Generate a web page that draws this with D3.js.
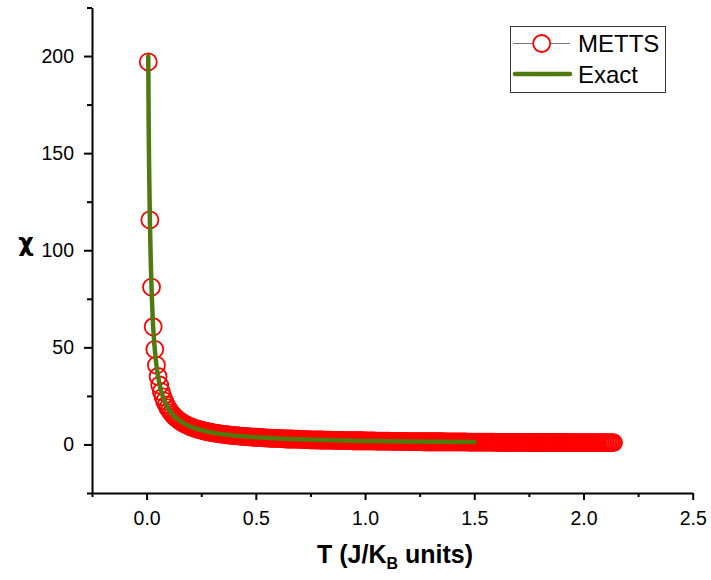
<!DOCTYPE html>
<html><head><meta charset="utf-8">
<script src="https://cdn.jsdelivr.net/npm/d3@7"></script>
<style>
html,body{margin:0;padding:0;background:#fff;}
svg{display:block;font-family:"Liberation Sans",Arial,sans-serif;}
</style></head>
<body>
<svg id="chart" width="711" height="580"></svg>
<script>
// METTS data: temperature (J/K_B units) and susceptibility chi
const mettsT = [
0.0075,0.015,0.0225,0.03,0.0375,0.045,0.0525,0.06,0.0675,0.075,0.0825,0.09,0.0975,0.105,0.1125,0.12,
0.1275,0.135,0.1425,0.15,0.1575,0.165,0.1725,0.18,0.1875,0.195,0.2025,0.21,0.2175,0.225,0.2325,0.24,
0.2475,0.255,0.2625,0.27,0.2775,0.285,0.2925,0.3,0.3075,0.315,0.3225,0.33,0.3375,0.345,0.3525,0.36,
0.3675,0.375,0.3825,0.39,0.3975,0.405,0.4125,0.42,0.4275,0.435,0.4425,0.45,0.4575,0.465,0.4725,0.48,
0.4875,0.495,0.5025,0.51,0.5175,0.525,0.5325,0.54,0.5475,0.555,0.5625,0.57,0.5775,0.585,0.5925,0.6,
0.6075,0.615,0.6225,0.63,0.6375,0.645,0.6525,0.66,0.6675,0.675,0.6825,0.69,0.6975,0.705,0.7125,0.72,
0.7275,0.735,0.7425,0.75,0.7575,0.765,0.7725,0.78,0.7875,0.795,0.8025,0.81,0.8175,0.825,0.8325,0.84,
0.8475,0.855,0.8625,0.87,0.8775,0.885,0.8925,0.9,0.9075,0.915,0.9225,0.93,0.9375,0.945,0.9525,0.96,
0.9675,0.975,0.9825,0.99,0.9975,1.005,1.0125,1.02,1.0275,1.035,1.0425,1.05,1.0575,1.065,1.0725,1.08,
1.0875,1.095,1.1025,1.11,1.1175,1.125,1.1325,1.14,1.1475,1.155,1.1625,1.17,1.1775,1.185,1.1925,1.2,
1.2075,1.215,1.2225,1.23,1.2375,1.245,1.2525,1.26,1.2675,1.275,1.2825,1.29,1.2975,1.305,1.3125,1.32,
1.3275,1.335,1.3425,1.35,1.3575,1.365,1.3725,1.38,1.3875,1.395,1.4025,1.41,1.4175,1.425,1.4325,1.44,
1.4475,1.455,1.4625,1.47,1.4775,1.485,1.4925,1.5,1.5075,1.515,1.5225,1.53,1.5375,1.545,1.5525,1.56,
1.5675,1.575,1.5825,1.59,1.5975,1.605,1.6125,1.62,1.6275,1.635,1.6425,1.65,1.6575,1.665,1.6725,1.68,
1.6875,1.695,1.7025,1.71,1.7175,1.725,1.7325,1.74,1.7475,1.755,1.7625,1.77,1.7775,1.785,1.7925,1.8,
1.8075,1.815,1.8225,1.83,1.8375,1.845,1.8525,1.86,1.8675,1.875,1.8825,1.89,1.8975,1.905,1.9125,1.92,
1.9275,1.935,1.9425,1.95,1.9575,1.965,1.9725,1.98,1.9875,1.995,2.0025,2.01,2.0175,2.025,2.0325,2.04,
2.0475,2.055,2.0625,2.07,2.0775,2.085,2.0925,2.1,2.1075,2.115,2.1225,2.13,2.1375];
const mettsChi = [
197,115.6,81,60.6,49,40.8,35,30.6,27.2,24.5,22.3,20.4,18.8,17.5,16.3,15.3,14.4,13.6,12.9,12.3,
11.7,11.1,10.7,10.2,9.8,9.4,9.1,8.8,8.4,8.2,7.9,7.7,7.4,7.2,7.0,6.8,6.6,6.4,6.3,6.1,
6.0,5.8,5.7,5.6,5.4,5.3,5.2,5.1,5.0,4.9,4.8,4.7,4.6,4.5,4.5,4.4,4.3,4.2,4.2,4.1,
4.0,4.0,3.9,3.8,3.8,3.7,3.7,3.6,3.6,3.5,3.5,3.4,3.4,3.3,3.3,3.2,3.2,3.1,3.1,3.1,
3.0,3.0,3.0,2.9,2.9,2.8,2.8,2.8,2.8,2.7,2.7,2.7,2.6,2.6,2.6,2.6,2.5,2.5,2.5,
2.4,2.4,2.4,2.4,2.4,
2.3,2.3,2.3,2.3,
2.2,2.2,2.2,2.2,2.2,
2.1,2.1,2.1,2.1,2.1,2.1,
2.0,2.0,2.0,2.0,2.0,2.0,
1.9,1.9,1.9,1.9,1.9,1.9,1.9,
1.8,1.8,1.8,1.8,1.8,1.8,1.8,
1.7,1.7,1.7,1.7,1.7,1.7,1.7,1.7,1.7,
1.6,1.6,1.6,1.6,1.6,1.6,1.6,1.6,1.6,1.6,
1.5,1.5,1.5,1.5,1.5,1.5,1.5,1.5,1.5,1.5,
1.4,1.4,1.4,1.4,1.4,1.4,1.4,1.4,1.4,1.4,1.4,1.4,1.4,
1.3,1.3,1.3,1.3,1.3,1.3,1.3,1.3,1.3,1.3,1.3,1.3,1.3,1.3,
1.2,1.2,1.2,1.2,1.2,1.2,1.2,1.2,1.2,1.2,1.2,1.2,1.2,1.2,1.2,1.2,1.2,
1.1,1.1,1.1,1.1,1.1,1.1,1.1,1.1,1.1,1.1,1.1,1.1,1.1,1.1,1.1,1.1,1.1,1.1,1.1,1.1,1.1,
1.0,1.0,1.0,1.0,1.0,1.0,1.0,1.0,1.0,1.0,1.0,1.0,1.0,1.0,1.0,1.0,1.0,1.0,1.0,1.0,1.0,1.0,1.0,1.0,
0.9,0.9,0.9,0.9,0.9,0.9,0.9,0.9,0.9,0.9,0.9,0.9,0.9,0.9,0.9,0.9,0.9,0.9,0.9,0.9,0.9,0.9,0.9,0.9,0.9,0.9,0.9,0.9];

// Exact curve
const exactT   = [0.0075,0.0095,0.012,0.015,0.019,0.0225,0.03,0.0375,0.045,0.06,0.075,0.09,0.12,0.15,0.2,0.25,0.3,0.4,0.5,0.6,0.75,0.9,1.05,1.2,1.35,1.5];
const exactChi = [200,164,138.5,115.6,94.2,81,60.6,49,40.8,30.6,24.5,20.4,15.3,12.3,9.2,7.4,6.1,4.6,3.7,3.1,2.5,2.0,1.75,1.5,1.35,1.25];

// Axes ticks
const xMajor = [0,0.5,1.0,1.5,2.0,2.5];
const xMinor = [-0.25,0.25,0.75,1.25,1.75,2.25];
const yMajor = [0,50,100,150,200];
const yMinor = [-25,25,75,125,175,225];
const seriesNames = ["METTS","Exact"];

const svg = d3.select("#chart");
const x = d3.scaleLinear().domain([-0.25,2.5]).range([92,692.7]);
const y = d3.scaleLinear().domain([-25,225]).range([493,7.5]);
const FONT = '"Liberation Sans",Arial,sans-serif';

// METTS circles
const metts = mettsT.map((t,i)=>({t, c: mettsChi[i]}));
svg.append("g").selectAll("circle").data(metts).join("circle")
  .attr("cx", d=>x(d.t)).attr("cy", d=>y(d.c)).attr("r", 8.5)
  .attr("fill","none").attr("stroke","#ff0000").attr("stroke-width",1.8);

// Exact line
const exact = exactT.map((t,i)=>({t, c: exactChi[i]}));
svg.append("path").datum(exact)
  .attr("d", d3.line().x(d=>x(d.t)).y(d=>y(d.c)).curve(d3.curveMonotoneX))
  .attr("fill","none").attr("stroke","#4f7a0e").attr("stroke-width",4.5)
  .attr("stroke-linecap","round").attr("stroke-linejoin","round");

// Axes
function styleAxis(g){
  g.selectAll("path.domain").attr("stroke","#000").attr("stroke-width",2);
  g.selectAll(".tick line").attr("stroke","#000").attr("stroke-width",2);
  g.selectAll(".tick text").attr("fill","#000").attr("font-size",19.5).attr("font-family",FONT);
}
const gxMinor = svg.append("g").attr("transform","translate(0,493)")
  .call(d3.axisBottom(x).tickValues(xMinor).tickSize(4).tickSizeOuter(0).tickFormat(""));
gxMinor.select(".domain").remove(); styleAxis(gxMinor);
const gx = svg.append("g").attr("transform","translate(0,493)")
  .call(d3.axisBottom(x).tickValues(xMajor).tickSize(7).tickSizeOuter(0).tickPadding(11).tickFormat(d3.format(".1f")));
styleAxis(gx);

const gyMinor = svg.append("g").attr("transform","translate(92,0)")
  .call(d3.axisLeft(y).tickValues(yMinor).tickSize(5).tickSizeOuter(0).tickFormat(""));
gyMinor.select(".domain").remove(); styleAxis(gyMinor);
const gy = svg.append("g").attr("transform","translate(92,0)")
  .call(d3.axisLeft(y).tickValues(yMajor).tickSize(8).tickSizeOuter(0).tickPadding(10).tickFormat(d3.format("d")));
styleAxis(gy);

// Axis titles
const xt = svg.append("text").attr("x",395).attr("y",563).attr("text-anchor","middle")
  .attr("font-family",FONT).attr("font-weight","bold").attr("font-size",25).attr("fill","#000");
xt.append("tspan").text("T (J/K");
xt.append("tspan").attr("font-size",16).attr("dy",6).text("B");
xt.append("tspan").attr("dy",-6).text(" units)");

svg.append("text").attr("x",26).attr("y",251).attr("text-anchor","middle")
  .attr("font-family",'"DejaVu Sans",sans-serif').attr("font-weight","bold").attr("font-size",24).attr("fill","#000").text("χ");

// Legend
const lg = svg.append("g");
lg.append("rect").attr("x",510.5).attr("y",26.5).attr("width",155).attr("height",66)
  .attr("fill","#fff").attr("stroke","#333").attr("stroke-width",1);
lg.append("line").attr("x1",513).attr("x2",533).attr("y1",43.5).attr("y2",43.5).attr("stroke","#777").attr("stroke-width",1);
lg.append("line").attr("x1",550.5).attr("x2",570).attr("y1",43.5).attr("y2",43.5).attr("stroke","#777").attr("stroke-width",1);
lg.append("circle").attr("cx",541.7).attr("cy",43.5).attr("r",8.5).attr("fill","none").attr("stroke","#ff0000").attr("stroke-width",1.8);
lg.append("line").attr("x1",515).attr("x2",570).attr("y1",74).attr("y2",74).attr("stroke","#4f7a0e").attr("stroke-width",4.5).attr("stroke-linecap","round");
lg.selectAll("text.lab").data(seriesNames).join("text").attr("class","lab")
  .attr("x",578).attr("y",(d,i)=>i===0?52:83)
  .attr("font-family",FONT).attr("font-size",24).attr("fill","#000").text(d=>d);
</script>
</body></html>
